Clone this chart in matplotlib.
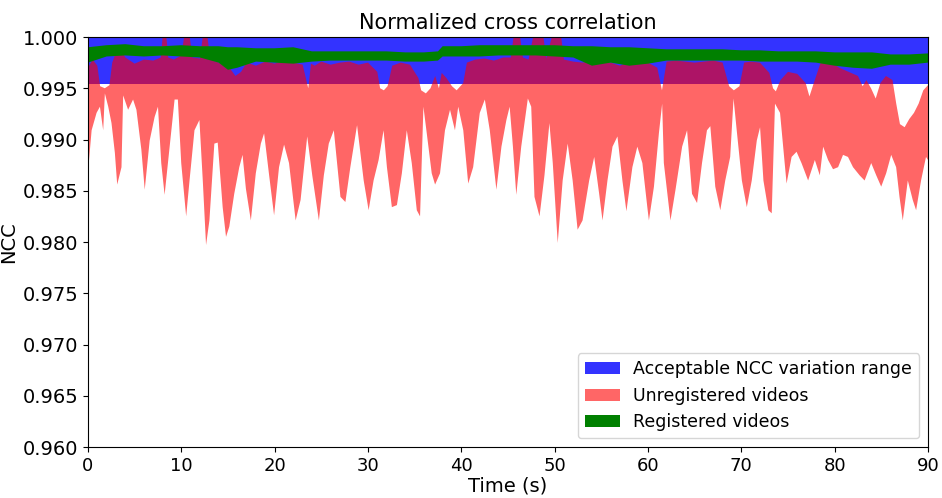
import numpy as np
import matplotlib
matplotlib.use("Agg")
import matplotlib.pyplot as plt

# Acceptable NCC variation range
blue_lo, blue_hi = 0.9954, 1.0

# Unregistered videos: lower envelope
t_lo = [0.0, 0.39, 0.92, 1.28, 1.63, 1.81, 2.17, 2.52, 2.88, 3.13, 3.59, 3.77, 4.3, 4.83, 5.19, 5.72,
        6.08, 6.61, 7.14, 7.5, 7.85, 8.21, 8.75, 9.28, 9.63, 9.99, 10.52, 10.88, 11.41, 11.94, 12.3,
        12.65, 13.01, 13.54, 13.9, 14.43, 14.79, 15.14, 15.67, 16.21, 16.56, 16.92, 17.45, 17.98,
        18.52, 18.87, 19.41, 19.94, 20.47, 21.01, 21.54, 22.25, 22.78, 23.49, 24.03, 24.74, 25.27,
        25.8, 26.34, 27.05, 27.58, 28.11, 28.83, 29.54, 30.07, 30.6, 31.14, 31.67, 32.03, 32.56,
        33.1, 33.63, 34.16, 34.69, 35.23, 35.58, 35.94, 36.3, 36.83, 37.19, 37.72, 38.25, 38.79,
        39.32, 39.67, 40.21, 40.74, 41.27, 41.98, 42.52, 43.05, 43.76, 44.3, 44.83, 45.18, 45.53,
        45.89, 46.42, 47.13, 47.49, 47.84, 48.38, 48.91, 49.44, 49.8, 50.33, 50.86, 51.4, 51.93,
        52.46, 52.99, 53.7, 54.24, 54.77, 55.13, 55.66, 56.2, 56.73, 57.26, 57.69, 58.33, 58.86,
        59.4, 59.93, 60.1, 60.64, 61.17, 61.52, 61.7, 62.41, 62.95, 63.66, 64.19, 64.72, 65.26,
        65.79, 66.32, 66.68, 67.21, 67.75, 68.28, 68.81, 69.17, 69.52, 70.06, 70.59, 71.12, 71.66,
        72.01, 72.37, 72.9, 73.26, 73.61, 74.15, 74.85, 75.39, 75.92, 76.45, 77.16, 77.88, 78.41,
        78.77, 79.3, 79.83, 80.37, 80.9, 81.43, 81.97, 82.68, 83.21, 83.92, 84.46, 84.99, 85.52,
        86.06, 86.59, 86.95, 87.3, 87.84, 88.37, 88.73, 89.26, 89.79, 90.0]
unreg_lo = [0.9868, 0.9909, 0.9926, 0.9932, 0.9909, 0.9945, 0.9932, 0.9916, 0.9887, 0.9856, 0.9873,
            0.9943, 0.9929, 0.9939, 0.9929, 0.9890, 0.9851, 0.9899, 0.9922, 0.9932, 0.9877, 0.9846,
            0.9893, 0.9939, 0.9939, 0.9877, 0.9825, 0.9860, 0.9909, 0.9919, 0.9860, 0.9797, 0.9821,
            0.9896, 0.9897, 0.9834, 0.9805, 0.9815, 0.9847, 0.9873, 0.9885, 0.9852, 0.9821, 0.9867,
            0.9896, 0.9906, 0.9865, 0.9826, 0.9873, 0.9895, 0.9877, 0.9821, 0.9841, 0.9903, 0.9865,
            0.9821, 0.9865, 0.9896, 0.9909, 0.9844, 0.9839, 0.9873, 0.9914, 0.9860, 0.9831, 0.9860,
            0.9880, 0.9909, 0.9873, 0.9834, 0.9836, 0.9867, 0.9909, 0.9877, 0.9831, 0.9825, 0.9932,
            0.9906, 0.9867, 0.9856, 0.9867, 0.9909, 0.9929, 0.9909, 0.9932, 0.9909, 0.9857, 0.9873,
            0.9926, 0.9939, 0.9909, 0.9851, 0.9893, 0.9919, 0.9932, 0.9893, 0.9846, 0.9893, 0.9940,
            0.9932, 0.9844, 0.9825, 0.9865, 0.9916, 0.9877, 0.9799, 0.9860, 0.9896, 0.9860, 0.9812,
            0.9821, 0.9860, 0.9883, 0.9847, 0.9821, 0.9860, 0.9893, 0.9903, 0.9860, 0.9830, 0.9873,
            0.9893, 0.9877, 0.9834, 0.9821, 0.9854, 0.9906, 0.9935, 0.9877, 0.9821, 0.9851, 0.9893,
            0.9909, 0.9847, 0.9838, 0.9877, 0.9909, 0.9913, 0.9854, 0.9831, 0.9860, 0.9883, 0.9940,
            0.9908, 0.9860, 0.9834, 0.9860, 0.9899, 0.9912, 0.9860, 0.9831, 0.9828, 0.9935, 0.9926,
            0.9857, 0.9883, 0.9888, 0.9877, 0.9860, 0.9880, 0.9865, 0.9893, 0.9880, 0.9871, 0.9873,
            0.9885, 0.9883, 0.9873, 0.9865, 0.9860, 0.9877, 0.9865, 0.9854, 0.9867, 0.9885, 0.9873,
            0.9844, 0.9821, 0.9860, 0.9841, 0.9831, 0.9860, 0.9883, 0.9880]

# Unregistered videos: upper envelope
t_up = [0, 0.5, 1.0, 1.3, 1.8, 2.3, 2.6, 3.0, 3.5, 4.0, 5.0, 6.0, 7.0, 7.8, 8.0, 8.4, 8.6, 9.2, 10.0,
        10.3, 10.9, 11.2, 12.0, 12.3, 12.8, 13.1, 14.0, 15.0, 15.8, 16.4, 17.0, 18.0, 19.0, 20.0,
        21.0, 22.0, 23.0, 23.6, 23.9, 24.3, 25.0, 26.0, 27.0, 28.0, 29.0, 30.0, 31.0, 31.3, 31.7,
        32.1, 32.6, 33.5, 34.5, 35.4, 35.7, 36.2, 36.7, 37.2, 37.6, 37.9, 38.4, 39.0, 39.5, 40.2,
        40.6, 41.5, 42.5, 43.5, 44.5, 45.3, 45.6, 46.3, 46.6, 47.2, 47.7, 48.8, 49.1, 49.7, 50.7,
        51.0, 52, 53, 54, 55, 56, 57, 58, 59, 60, 61, 61.5, 62, 63, 64, 65, 66, 67, 68, 68.7, 69.2,
        69.8, 70.3, 71, 72, 73, 73.4, 73.7, 74.2, 75, 76, 76.9, 77.3, 77.8, 78.5, 79.5, 80.5, 81.5,
        82.5, 83.0, 83.4, 83.9, 84.4, 84.9, 85.5, 86.2, 86.6, 87.0, 87.5, 88.0, 88.5, 89.0, 89.5, 90]
unreg_hi = [0.9970, 0.9978, 0.9972, 0.9952, 0.9950, 0.9953, 0.9975, 0.9985, 0.9988, 0.9980, 0.9974,
            0.9978, 0.9977, 0.9980, 1.0, 1.0, 0.9980, 0.9978, 0.9982, 1.0, 1.0, 0.9980, 0.9979, 1.0,
            1.0, 0.9978, 0.9975, 0.9972, 0.9962, 0.9966, 0.9975, 0.9972, 0.9976, 0.9974, 0.9977,
            0.9975, 0.9973, 0.9950, 0.9974, 0.9972, 0.9976, 0.9973, 0.9975, 0.9976, 0.9973, 0.9975,
            0.9966, 0.9950, 0.9948, 0.9952, 0.9972, 0.9975, 0.9973, 0.9960, 0.9948, 0.9945, 0.9950,
            0.9962, 0.9950, 0.9965, 0.9960, 0.9952, 0.9948, 0.9955, 0.9975, 0.9978, 0.9979, 0.9977,
            0.9980, 0.9980, 1.0, 1.0, 0.9980, 0.9978, 1.0, 1.0, 0.9979, 1.0, 1.0, 0.9978, 0.9976,
            0.9975, 0.9977, 0.9976, 0.9975, 0.9972, 0.9976, 0.9974, 0.9975, 0.9970, 0.9948, 0.9976,
            0.9977, 0.9976, 0.9975, 0.9976, 0.9977, 0.9975, 0.9952, 0.9948, 0.9952, 0.9975, 0.9976,
            0.9975, 0.9965, 0.9950, 0.9947, 0.9958, 0.9966, 0.9964, 0.9955, 0.9942, 0.9956, 0.9975,
            0.9976, 0.9970, 0.9966, 0.9962, 0.9952, 0.9958, 0.9950, 0.9940, 0.9955, 0.9962, 0.9958,
            0.9935, 0.9915, 0.9912, 0.9920, 0.9926, 0.9935, 0.9948, 0.9953]

# Registered videos
t_reg = [0, 2, 4, 6, 8, 10, 12, 14, 15, 16, 18, 20, 22, 24, 26, 28, 30, 32, 34, 36, 37.5, 38, 40,
         42, 44, 46, 48, 50, 52, 54, 56, 58, 60, 62, 64, 66, 68, 70, 72, 74, 76, 78, 80, 82, 84,
         86, 88, 90]
reg_hi = [0.9990, 0.9992, 0.9993, 0.9991, 0.9991, 0.9992, 0.9991, 0.9991, 0.9990, 0.9990, 0.9989,
          0.9989, 0.9990, 0.9986, 0.9986, 0.9986, 0.9986, 0.9986, 0.9985, 0.9985, 0.9986, 0.9991,
          0.9991, 0.9992, 0.9992, 0.9992, 0.9992, 0.9992, 0.9991, 0.9991, 0.9990, 0.9990, 0.9989,
          0.9988, 0.9988, 0.9988, 0.9988, 0.9987, 0.9987, 0.9986, 0.9986, 0.9986, 0.9985, 0.9985,
          0.9985, 0.9983, 0.9983, 0.9984]
reg_lo = [0.9975, 0.9981, 0.9982, 0.9981, 0.9982, 0.9981, 0.9980, 0.9975, 0.9968, 0.9970, 0.9976,
          0.9975, 0.9974, 0.9976, 0.9977, 0.9977, 0.9977, 0.9977, 0.9976, 0.9976, 0.9977, 0.9981,
          0.9981, 0.9981, 0.9982, 0.9982, 0.9982, 0.9981, 0.9980, 0.9972, 0.9975, 0.9972, 0.9974,
          0.9977, 0.9977, 0.9977, 0.9977, 0.9977, 0.9976, 0.9976, 0.9976, 0.9975, 0.9972, 0.9970,
          0.9969, 0.9973, 0.9973, 0.9975]

x_ticks = [0, 10, 20, 30, 40, 50, 60, 70, 80, 90]
y_ticks = [0.960, 0.965, 0.970, 0.975, 0.980, 0.985, 0.990, 0.995, 1.000]

fig = plt.figure(figsize=(9.42, 4.98), dpi=100)
ax = fig.add_axes([0.0934, 0.1024, 0.8917, 0.8233])

ax.fill_between([0, 90], [blue_lo, blue_lo], [blue_hi, blue_hi], color="blue", alpha=0.8,
                linewidth=0, label="Acceptable NCC variation range")
ax.fill(np.concatenate([t_lo, t_up[::-1]]), np.concatenate([unreg_lo, unreg_hi[::-1]]),
        color="red", alpha=0.6, linewidth=0, label="Unregistered videos")
ax.fill(np.concatenate([t_reg, t_reg[::-1]]), np.concatenate([reg_lo, reg_hi[::-1]]),
        color="green", linewidth=0, label="Registered videos")

ax.set_xlim(0, 90)
ax.set_ylim(0.960, 1.000)
ax.set_xticks(x_ticks)
ax.set_yticks(y_ticks)
ax.set_yticklabels([f"{v:.3f}" for v in y_ticks])
ax.tick_params(axis="y", labelsize=14)
ax.tick_params(axis="x", labelsize=13)
ax.set_title("Normalized cross correlation", fontsize=15)
ax.set_xlabel("Time (s)", fontsize=14, labelpad=1)
ax.set_ylabel("NCC", fontsize=14)
ax.yaxis.set_label_coords(-0.083, 0.5)
ax.legend(loc="lower right", fontsize=12.5)

fig.savefig("out.png", dpi=100)
